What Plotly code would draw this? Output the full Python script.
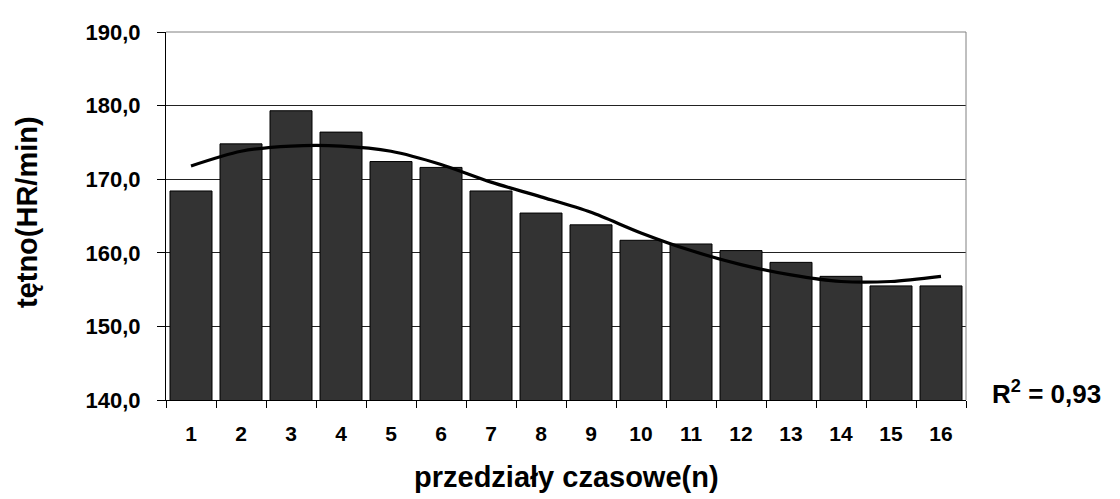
import plotly.graph_objects as go

categories = [str(i) for i in range(1, 17)]
heart_rate = [168.4, 174.8, 179.3, 176.4, 172.4, 171.6, 168.4, 165.4,
              163.8, 161.7, 161.2, 160.3, 158.7, 156.8, 155.5, 155.5]
trend = [171.8, 173.8, 174.5, 174.5, 173.8, 172.0, 169.6, 167.6,
         165.5, 162.7, 160.3, 158.4, 157.0, 156.1, 156.1, 156.8]
y_ticks = [140, 150, 160, 170, 180, 190]
y_title = "tętno(HR/min)"
x_title = "przedziały czasowe(n)"
r2_text = "R<sup>2</sup> = 0,93"

FONT = "Liberation Sans, Arial, sans-serif"

fig = go.Figure()
fig.add_trace(go.Bar(
    x=categories, y=heart_rate,
    marker=dict(color="#333333", line=dict(color="black", width=1)),
    showlegend=False,
))
fig.add_trace(go.Scatter(
    x=categories, y=trend, mode="lines",
    line=dict(color="black", width=3.2, shape="spline", smoothing=0.8),
    showlegend=False,
))

# page body has an 8px default margin, so the figure is 8px smaller
fig.update_layout(
    width=1112, height=491,
    margin=dict(l=158, r=154, t=19, b=99),
    paper_bgcolor="white", plot_bgcolor="white",
    separators=", ",
    bargap=0.16,
    font=dict(family=FONT, color="black"),
    xaxis=dict(
        type="category", tickson="boundaries",
        showline=True, linecolor="black", linewidth=1,
        ticks="outside", ticklen=7, tickcolor="black",
        showgrid=False,
        ticklabelstandoff=15,
        tickfont=dict(family=FONT, size=21, color="black", weight="bold"),
    ),
    yaxis=dict(
        range=[140, 190], tickvals=y_ticks, tickformat=".1f",
        showline=True, linecolor="black", linewidth=1,
        ticks="outside", ticklen=8, tickcolor="black",
        showgrid=True, gridcolor="#222222", gridwidth=1,
        zeroline=False,
        ticklabelstandoff=12,
        tickfont=dict(family=FONT, size=22, color="black", weight="bold"),
    ),
    shapes=[
        dict(type="line", xref="paper", yref="paper", x0=0, x1=1, y0=1, y1=1,
             line=dict(color="#808080", width=1)),
        dict(type="line", xref="paper", yref="paper", x0=1, x1=1, y0=0, y1=1,
             line=dict(color="#808080", width=1)),
    ],
    annotations=[
        dict(text=y_title, xref="paper", yref="paper", x=-139 / 800, y=0.5 + 4 / 373,
             xanchor="center", yanchor="middle", textangle=-90, showarrow=False,
             font=dict(family=FONT, size=29, color="black", weight="bold")),
        dict(text=x_title, xref="paper", yref="paper", x=0.5, y=-96 / 373,
             xanchor="center", yanchor="bottom", showarrow=False,
             font=dict(family=FONT, size=29, color="black", weight="bold")),
        dict(text=r2_text, xref="paper", yref="paper", x=1 + 24 / 800, y=8 / 373,
             xanchor="left", yanchor="middle", showarrow=False,
             font=dict(family=FONT, size=26, color="black", weight="bold")),
    ],
)

fig.write_html("out.html")
